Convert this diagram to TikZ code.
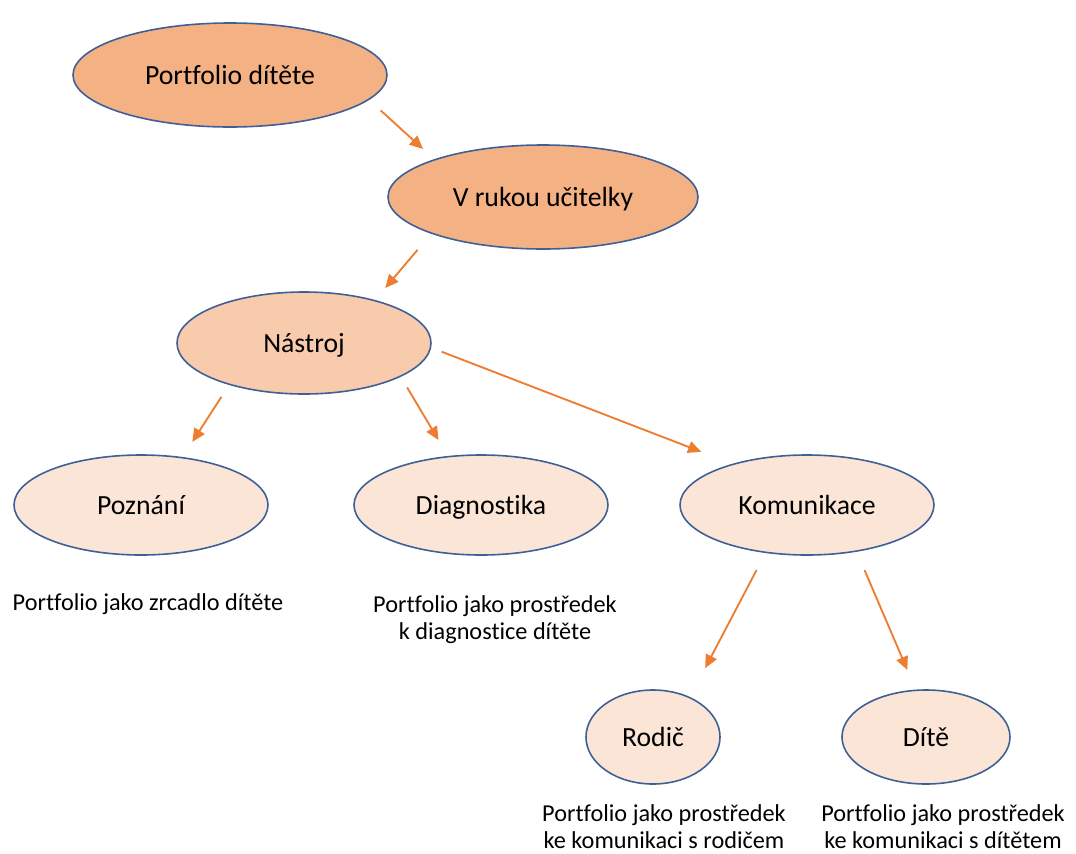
\documentclass[tikz,border=0pt]{standalone}
\usepackage{fontspec}
\setmainfont{Carlito}[Ligatures=NoCommon]
\usetikzlibrary{shapes.geometric,arrows.meta}

\definecolor{ovaldark}{HTML}{F4B183}
\definecolor{ovalmid}{HTML}{F8CBAD}
\definecolor{ovallight}{HTML}{FBE5D6}
\definecolor{ovalline}{HTML}{3F6096}
\definecolor{linkorange}{HTML}{ED7D31}

\tikzset{every picture/.style={line width=0.75pt}}
\tikzset{
	oval/.style={ellipse,draw=ovalline,line width=1.2pt,inner sep=0pt,outer sep=0pt,text height=16pt,text depth=2pt,font=\fontsize{20.8}{25}\selectfont},
	link/.style={draw=linkorange,line width=1.4pt,-{Triangle[length=10pt,width=9pt]}},
	note/.style={font=\fontsize{18.2}{20.3}\selectfont,align=center}
}

\begin{document}
\begin{tikzpicture}[x=0.75pt,y=0.75pt,yscale=-1,xscale=1]
	\useasboundingbox (0,0) rectangle (1076,854);

	% Ellipses
	\node[oval,fill=ovaldark,minimum width=235.5pt,minimum height=78pt] (portfolio) at (230,75) {Portfolio dítěte};
	\node[oval,fill=ovaldark,minimum width=232.5pt,minimum height=78pt] (ucitelka) at (543,197) {V rukou učitelky};
	\node[oval,fill=ovalmid,minimum width=190.5pt,minimum height=76.5pt] (nastroj) at (304,343) {Nástroj};
	\node[oval,fill=ovallight,minimum width=190.5pt,minimum height=75pt] (poznani) at (141,505) {Poznání};
	\node[oval,fill=ovallight,minimum width=190.5pt,minimum height=75pt] (diagnostika) at (481,505) {Diagnostika};
	\node[oval,fill=ovallight,minimum width=190.5pt,minimum height=75pt] (komunikace) at (807,505) {Komunikace};
	\node[oval,fill=ovallight,minimum width=100.5pt,minimum height=70.5pt] (rodic) at (653,737) {Rodič};
	\node[oval,fill=ovallight,minimum width=126pt,minimum height=70.5pt] (dite) at (926,737) {Dítě};

	% Arrows
	\draw[link,shorten <=12.3pt,shorten >=12pt] (portfolio.-10.8) -- (ucitelka.161.9);
	\draw[link,shorten <=16.4pt,shorten >=12.4pt] (ucitelka.198.2) -- (nastroj.31.2);
	\draw[link,shorten <=11.2pt,shorten >=14.1pt] (nastroj.209.4) -- (poznani.49.4);
	\draw[link,shorten <=9.8pt,shorten >=14.5pt] (nastroj.341.5) -- (diagnostika.124.8);
	\draw[link,shorten <=8.9pt,shorten >=25.8pt] (nastroj.358.8) -- (komunikace.151.7);
	\draw[link,shorten <=15pt,shorten >=25pt] (komunikace.229.4) -- (rodic.47.4);
	\draw[link,shorten <=15.5pt,shorten >=16.6pt] (komunikace.317.4) -- (dite.102.6);

	% Text Node
	\node[note] (tpoznani) at (148,604) {Portfolio jako zrcadlo dítěte};
	% Text Node
	\node[note] (tdiagnostika) at (495,620) {Portfolio jako prostředek\\k diagnostice dítěte};
	% Text Node
	\node[note] (trodic) at (664,827) {Portfolio jako prostředek\\ke komunikaci s rodičem};
	% Text Node
	\node[note] (tdite) at (943,827) {Portfolio jako prostředek\\ke komunikaci s dítětem};

\end{tikzpicture}
\end{document}
